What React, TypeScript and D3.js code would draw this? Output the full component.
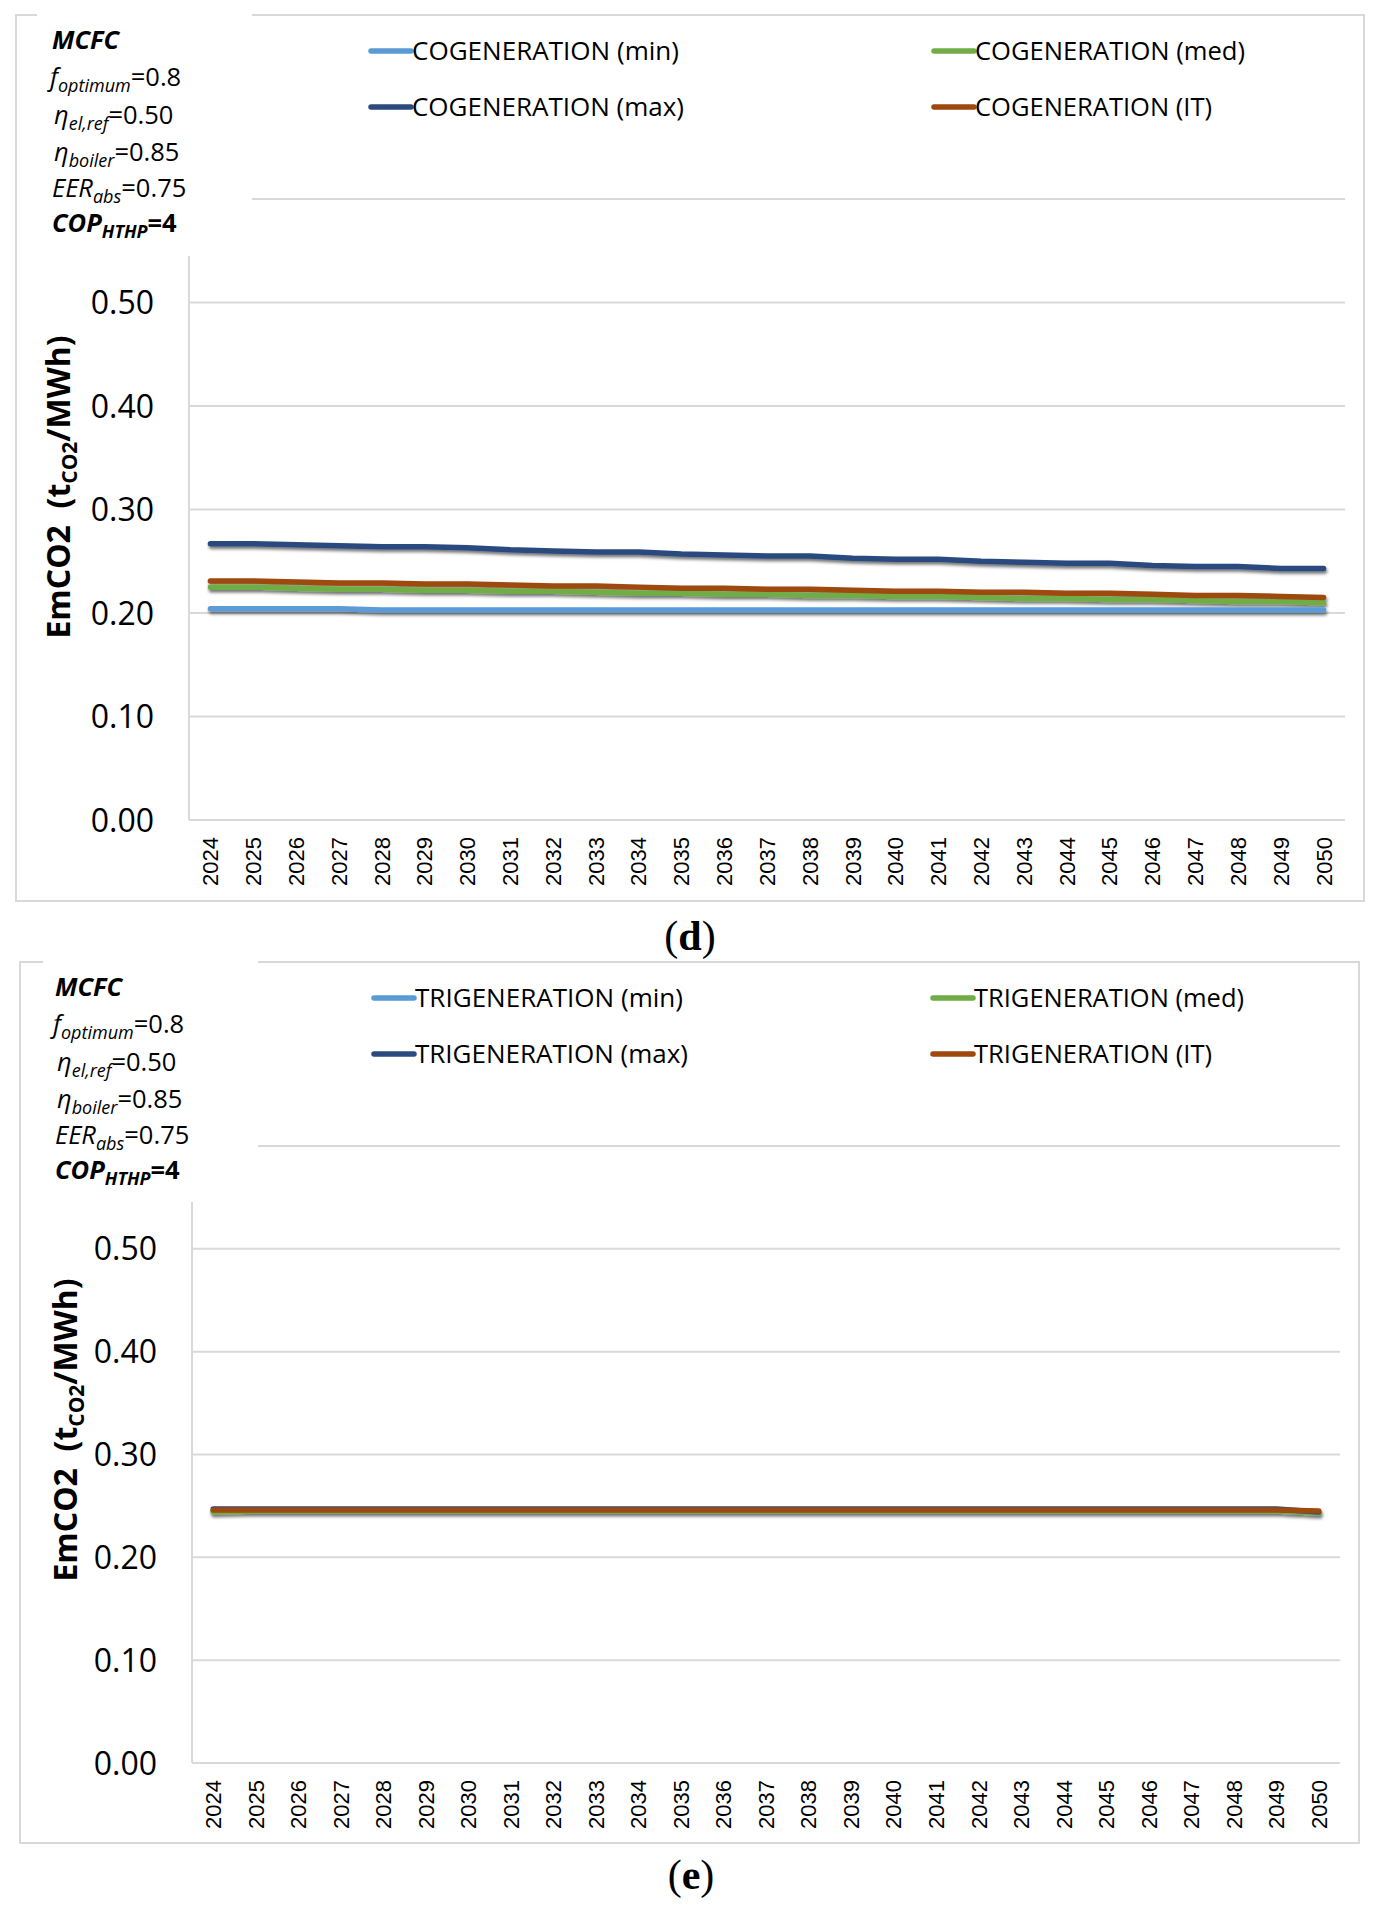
import React from 'react';
import * as d3 from 'd3';

// ---------- DATA ----------
const years: string[] = [
  '2024', '2025', '2026', '2027', '2028', '2029', '2030', '2031', '2032',
  '2033', '2034', '2035', '2036', '2037', '2038', '2039', '2040', '2041',
  '2042', '2043', '2044', '2045', '2046', '2047', '2048', '2049', '2050',
];

const yTicks: number[] = [0, 0.1, 0.2, 0.3, 0.4, 0.5, 0.6];

// (d) Cogeneration
const cogenMin: number[] = [
  0.204, 0.204, 0.204, 0.204, 0.203, 0.203, 0.203, 0.203, 0.203,
  0.203, 0.203, 0.203, 0.203, 0.203, 0.203, 0.203, 0.203, 0.203,
  0.203, 0.203, 0.203, 0.203, 0.203, 0.203, 0.203, 0.203, 0.203,
];
const cogenMed: number[] = [
  0.225, 0.225, 0.224, 0.223, 0.223, 0.222, 0.222, 0.221, 0.221,
  0.220, 0.219, 0.219, 0.218, 0.218, 0.217, 0.217, 0.216, 0.216,
  0.215, 0.214, 0.214, 0.213, 0.213, 0.212, 0.211, 0.211, 0.210,
];
const cogenMax: number[] = [
  0.267, 0.267, 0.266, 0.265, 0.264, 0.264, 0.263, 0.261, 0.260,
  0.259, 0.259, 0.257, 0.256, 0.255, 0.255, 0.253, 0.252, 0.252,
  0.250, 0.249, 0.248, 0.248, 0.246, 0.245, 0.245, 0.243, 0.243,
];
const cogenIT: number[] = [
  0.231, 0.231, 0.230, 0.229, 0.229, 0.228, 0.228, 0.227, 0.226,
  0.226, 0.225, 0.224, 0.224, 0.223, 0.223, 0.222, 0.221, 0.221,
  0.220, 0.220, 0.219, 0.219, 0.218, 0.217, 0.217, 0.216, 0.215,
];

// (e) Trigeneration
const trigenMin: number[] = [
  0.245, 0.245, 0.245, 0.245, 0.245, 0.245, 0.245, 0.245, 0.245,
  0.245, 0.245, 0.245, 0.245, 0.245, 0.245, 0.245, 0.245, 0.245,
  0.245, 0.245, 0.245, 0.245, 0.245, 0.245, 0.245, 0.245, 0.243,
];
const trigenMed: number[] = [
  0.244, 0.245, 0.245, 0.245, 0.245, 0.245, 0.245, 0.245, 0.245,
  0.245, 0.245, 0.245, 0.245, 0.245, 0.245, 0.245, 0.245, 0.245,
  0.245, 0.245, 0.245, 0.245, 0.245, 0.245, 0.245, 0.245, 0.243,
];
const trigenMax: number[] = [
  0.247, 0.247, 0.247, 0.247, 0.247, 0.247, 0.247, 0.247, 0.247,
  0.247, 0.247, 0.247, 0.247, 0.247, 0.247, 0.247, 0.247, 0.247,
  0.247, 0.247, 0.247, 0.247, 0.247, 0.247, 0.247, 0.247, 0.244,
];
const trigenIT: number[] = [
  0.246, 0.246, 0.246, 0.246, 0.246, 0.246, 0.246, 0.246, 0.246,
  0.246, 0.246, 0.246, 0.246, 0.246, 0.246, 0.246, 0.246, 0.246,
  0.246, 0.246, 0.246, 0.246, 0.246, 0.246, 0.246, 0.246, 0.245,
];

const cogenNames: string[] = ['COGENERATION (min)', 'COGENERATION (med)', 'COGENERATION (max)', 'COGENERATION (IT)'];
const trigenNames: string[] = ['TRIGENERATION (min)', 'TRIGENERATION (med)', 'TRIGENERATION (max)', 'TRIGENERATION (IT)'];
const seriesColors: string[] = ['#5B9BD5', '#70AD47', '#2B4A7E', '#9E480E'];

// ---------- LAYOUT ----------
const W = 1379;
const H = 1914;
const SANS = "'Open Sans', 'Noto Sans', sans-serif";
const ARIAL = "'Liberation Sans', Arial, sans-serif";
const SERIF = "'Liberation Serif', 'DejaVu Serif', serif";
const GRID = '#D9D9D9';

interface PanelProps {
  id: string;
  box: { x: number; y: number; w: number; h: number };
  plot: { left: number; right: number; y0: number; yTop: number };
  cover: { x: number; w: number; h: number };
  textX: number;
  titleX: number;
  titleY: number;
  names: string[];
  values: number[][];
  legend: { c1: number; c2: number; widths: number[] };
}

function Panel(p: PanelProps) {
  const x = d3.scaleBand<string>().domain(years).range([p.plot.left, p.plot.right]).padding(0);
  const y = d3.scaleLinear().domain([0, 0.6]).range([p.plot.y0, p.plot.yTop]);
  const cx = (yr: string) => (x(yr) as number) + x.bandwidth() / 2;
  const line = d3
    .line<number>()
    .x((_, i) => cx(years[i]))
    .y((v) => y(v));

  const bx = p.box;
  const rowY = [bx.y + 36, bx.y + 92];
  const MK = 40;
  // legend order: row-wise min, med / max, IT
  const legendItems = [
    { idx: 0, col: p.legend.c1, row: 0 },
    { idx: 1, col: p.legend.c2, row: 0 },
    { idx: 2, col: p.legend.c1, row: 1 },
    { idx: 3, col: p.legend.c2, row: 1 },
  ];
  const tl = [34, 71, 109, 146, 182, 217].map((d) => bx.y + d);
  const SUB = 18;
  const SD = 6;

  return (
    <g>
      <defs>
        <filter id={`shadow-${p.id}`} filterUnits="userSpaceOnUse" x={0} y={0} width={W} height={H}>
          <feDropShadow dx={1} dy={2.5} stdDeviation={1.6} floodColor="#000" floodOpacity={0.55} />
        </filter>
      </defs>
      {/* chart border */}
      <rect x={bx.x} y={bx.y} width={bx.w} height={bx.h} fill="#fff" stroke={GRID} strokeWidth={2} />
      {/* gridlines */}
      {yTicks.filter((t) => t > 0).map((t) => (
        <line key={t} x1={p.plot.left} x2={p.plot.right} y1={y(t)} y2={y(t)} stroke={GRID} strokeWidth={2} />
      ))}
      {/* axes */}
      <line x1={p.plot.left} x2={p.plot.right} y1={y(0)} y2={y(0)} stroke={GRID} strokeWidth={2} />
      <line x1={p.plot.left} x2={p.plot.left} y1={y(0.6)} y2={y(0)} stroke={GRID} strokeWidth={2} />
      {/* y tick labels */}
      {yTicks.map((t) => (
        <text key={t} x={p.plot.left - 35} y={y(t)} dy="0.36em" textAnchor="end" fontFamily={SANS} fontSize={32} fill="#000">
          {t.toFixed(2)}
        </text>
      ))}
      {/* x tick labels */}
      {years.map((yr) => (
        <text
          key={yr}
          transform={`translate(${cx(yr)},${p.plot.y0 + 17}) rotate(-90)`}
          dy="0.36em"
          textAnchor="end"
          fontFamily={ARIAL}
          fontSize={22}
          fill="#000"
        >
          {yr}
        </text>
      ))}
      {/* y axis title */}
      <text
        transform={`translate(${p.titleX},${p.titleY}) rotate(-90)`}
        textAnchor="middle"
        fontFamily={SANS}
        fontSize={32}
        fontWeight="bold"
        fill="#000"
      >
        {'EmCO2\u00A0 (t'}
        <tspan fontSize={21} dy={7}>CO2</tspan>
        <tspan dy={-7}>/MWh)</tspan>
      </text>
      {/* series */}
      <g filter={`url(#shadow-${p.id})`}>
        {p.values.map((vals, i) => (
          <path
            key={i}
            d={line(vals) as string}
            fill="none"
            stroke={seriesColors[i]}
            strokeWidth={5.5}
            strokeLinecap="round"
            strokeLinejoin="round"
          />
        ))}
      </g>
      {/* legend */}
      {legendItems.map((it) => (
        <g key={it.idx}>
          <line
            x1={it.col}
            x2={it.col + MK}
            y1={rowY[it.row]}
            y2={rowY[it.row]}
            stroke={seriesColors[it.idx]}
            strokeWidth={5.5}
            strokeLinecap="round"
          />
          <text
            x={it.col + MK + 1}
            y={rowY[it.row]}
            dy="0.36em"
            fontFamily={SANS}
            fontSize={26}
            fill="#000"
            textLength={p.legend.widths[it.idx]}
            lengthAdjust="spacingAndGlyphs"
          >
            {p.names[it.idx]}
          </text>
        </g>
      ))}
      {/* white text box */}
      <rect x={p.cover.x} y={bx.y - 1} width={p.cover.w} height={p.cover.h} fill="#fff" />
      <g fontFamily={SANS} fontSize={25.5} fill="#000">
        <text x={p.textX} y={tl[0]} fontWeight="bold" fontStyle="italic">MCFC</text>
        <text x={p.textX - 2} y={tl[1]}>
          <tspan fontStyle="italic">f</tspan>
          <tspan fontStyle="italic" fontSize={SUB} dy={SD}>optimum</tspan>
          <tspan dy={-SD}>=0.8</tspan>
        </text>
        <text x={p.textX + 2} y={tl[2]}>
          <tspan fontStyle="italic">η</tspan>
          <tspan fontStyle="italic" fontSize={SUB} dy={SD}>el,ref</tspan>
          <tspan dy={-SD}>=0.50</tspan>
        </text>
        <text x={p.textX + 2} y={tl[3]}>
          <tspan fontStyle="italic">η</tspan>
          <tspan fontStyle="italic" fontSize={SUB} dy={SD}>boiler</tspan>
          <tspan dy={-SD}>=0.85</tspan>
        </text>
        <text x={p.textX} y={tl[4]}>
          <tspan fontStyle="italic">EER</tspan>
          <tspan fontStyle="italic" fontSize={SUB} dy={SD}>abs</tspan>
          <tspan dy={-SD}>=0.75</tspan>
        </text>
        <text x={p.textX} y={tl[5]} fontWeight="bold">
          <tspan fontStyle="italic">COP</tspan>
          <tspan fontStyle="italic" fontSize={SUB} dy={SD}>HTHP</tspan>
          <tspan dy={-SD}>=4</tspan>
        </text>
      </g>
    </g>
  );
}

export default function App() {
  return (
    <svg
      width={W}
      height={H}
      viewBox={`0 0 ${W} ${H}`}
      style={{ position: 'absolute', left: 0, top: 0, display: 'block', background: '#fff' }}
    >
      <rect x={0} y={0} width={W} height={H} fill="#fff" />
      <Panel
        id="d"
        box={{ x: 16, y: 15, w: 1348, h: 886 }}
        plot={{ left: 189, right: 1345, y0: 820, yTop: 199 }}
        cover={{ x: 37, w: 215, h: 242 }}
        textX={52}
        titleX={70}
        titleY={487}
        names={cogenNames}
        values={[cogenMin, cogenMed, cogenMax, cogenIT]}
        legend={{ c1: 371, c2: 934, widths: [267, 270, 272, 237] }}
      />
      <text x={690} y={950} textAnchor="middle" fontFamily={SERIF} fontSize={42} fill="#000">
        (<tspan fontWeight="bold">d</tspan>)
      </text>
      <Panel
        id="e"
        box={{ x: 20, y: 962, w: 1339, h: 881 }}
        plot={{ left: 192, right: 1340, y0: 1763, yTop: 1146 }}
        cover={{ x: 43, w: 215, h: 241 }}
        textX={55}
        titleX={77}
        titleY={1430}
        names={trigenNames}
        values={[trigenMin, trigenMed, trigenMax, trigenIT]}
        legend={{ c1: 374, c2: 933, widths: [268, 270, 273, 238] }}
      />
      <text x={691} y={1889} textAnchor="middle" fontFamily={SERIF} fontSize={42} fill="#000">
        (<tspan fontWeight="bold">e</tspan>)
      </text>
    </svg>
  );
}
